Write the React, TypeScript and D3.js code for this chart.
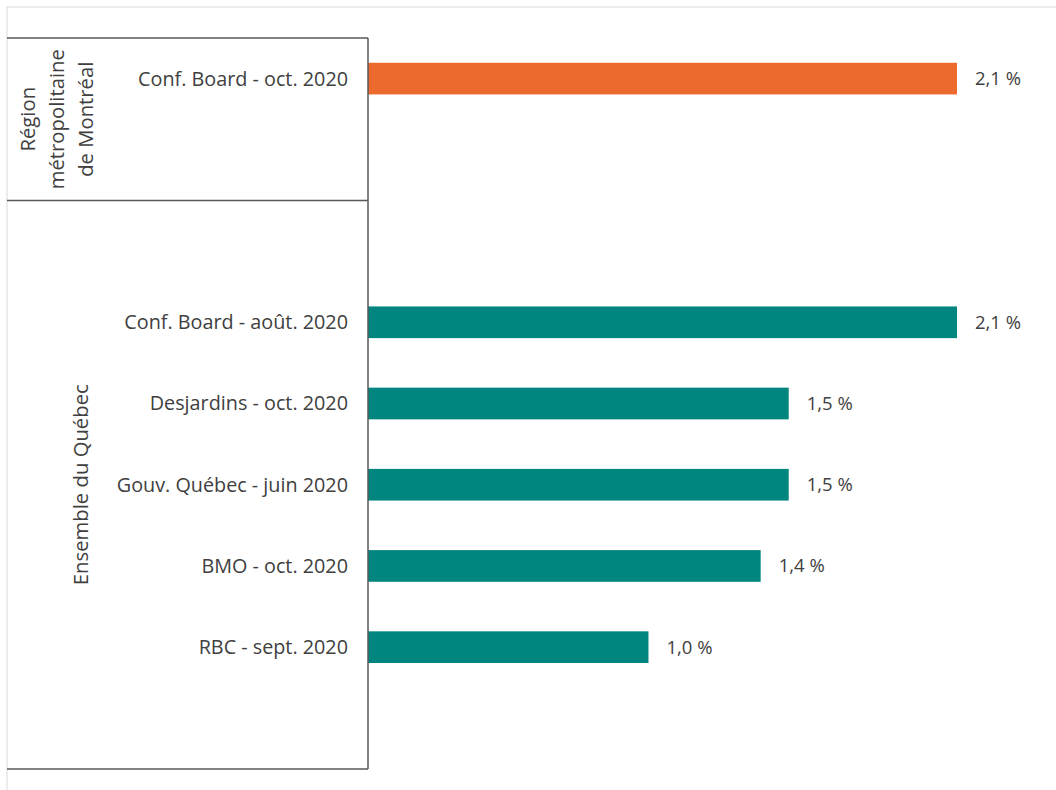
import React from "react";
import * as d3 from "d3";

const categories = [
  "Conf. Board - oct. 2020",
  "_gap1",
  "_gap2",
  "Conf. Board - août. 2020",
  "Desjardins - oct. 2020",
  "Gouv. Québec - juin 2020",
  "BMO - oct. 2020",
  "RBC - sept. 2020",
  "_gap3",
];
const values: (number | null)[] = [2.1, null, null, 2.1, 1.5, 1.5, 1.4, 1.0, null];
const groupOf = [0, 0, 1, 1, 1, 1, 1, 1, 1];
const groups = [
  { name: ["Région", "métropolitaine", "de Montréal"], first: 0, last: 1 },
  { name: ["Ensemble du Québec"], first: 2, last: 8 },
];
const colors = ["#ED6A2F", "#00857F"];

export default function App() {
  const W = 1056, H = 790;
  const left = 368, top = 38, bottom = 769;
  const x = d3.scaleLinear().domain([0, 2.1]).range([left, 957]);
  const y = d3.scaleBand<string>().domain(categories).range([top, bottom]).paddingInner(0.61).paddingOuter(0.305);
  const font = "'Open Sans', sans-serif";
  const fmt = (v: number) => v.toFixed(1).replace(".", ",") + "\u00A0%";
  const bandStart = (i: number) => top + i * ((bottom - top) / categories.length);

  return (
    <svg width={W} height={H} style={{ position: "absolute", left: 0, top: 0, background: "#fff" }}>
      <rect x={7} y={7} width={W} height={H} fill="none" stroke="#d9d9d9" strokeWidth={1} />
      {categories.map((c, i) =>
        values[i] == null ? null : (
          <g key={c}>
            <rect
              x={x(0)}
              y={y(c)!}
              width={x(values[i] as number) - x(0)}
              height={y.bandwidth()}
              fill={colors[groupOf[i]]}
            />
            <text
              x={x(values[i] as number) + 18}
              y={y(c)! + y.bandwidth() / 2}
              dy="0.35em"
              fontFamily={font}
              fontSize={18.5}
              fill="#404040"
            >
              {fmt(values[i] as number)}
            </text>
            <text
              x={348}
              y={y(c)! + y.bandwidth() / 2}
              dy="0.35em"
              textAnchor="end"
              fontFamily={font}
              fontSize={19.8}
              fill="#404040"
            >
              {c}
            </text>
          </g>
        )
      )}
      <g stroke="#595959" strokeWidth={1.5} fill="none">
        <line x1={7} x2={left} y1={top} y2={top} />
        <line x1={7} x2={left} y1={bandStart(2)} y2={bandStart(2)} />
        <line x1={7} x2={left} y1={bottom} y2={bottom} />
        <line x1={left} x2={left} y1={top} y2={bottom} />
      </g>
      {groups.map((g, gi) => {
        const cy = (bandStart(g.first) + bandStart(g.last + 1)) / 2;
        const n = g.name.length;
        const cx = gi === 0 ? 57 : 81;
        const lh = 29;
        return (
          <g key={gi}>
            {g.name.map((line, li) => (
              <text
                key={li}
                transform={`translate(${cx + (li - (n - 1) / 2) * lh},${cy}) rotate(-90)`}
                textAnchor="middle"
                dy="0.35em"
                fontFamily={font}
                fontSize={20.3}
                fill="#404040"
              >
                {line}
              </text>
            ))}
          </g>
        );
      })}
    </svg>
  );
}
